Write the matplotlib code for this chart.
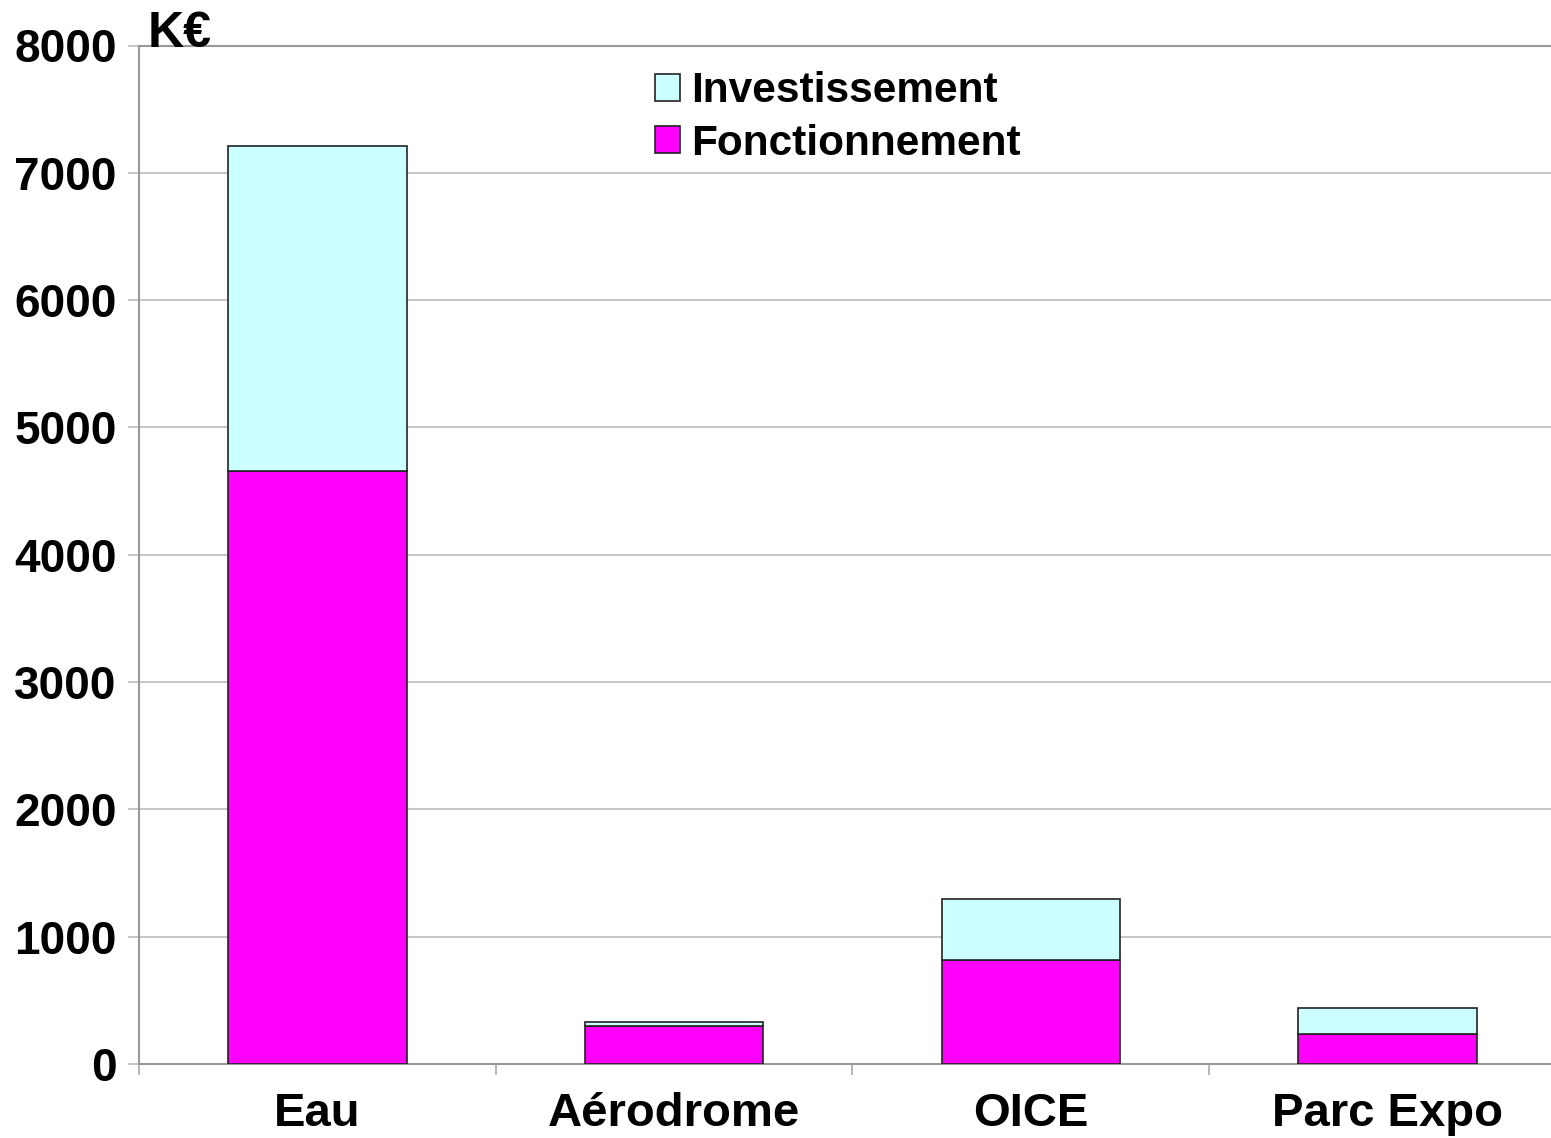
import numpy as np
import matplotlib.pyplot as plt
from matplotlib.ticker import FixedLocator

plt.rcParams['font.family'] = ['Liberation Sans', 'DejaVu Sans']
plt.rcParams['font.weight'] = 'bold'

categories = ['Eau', 'Aérodrome', 'OICE', 'Parc Expo']
fonctionnement = [4655, 298, 816, 233]
investissement = [2553, 32, 477, 207]
yticks = [0, 1000, 2000, 3000, 4000, 5000, 6000, 7000, 8000]

W, H = 1551, 1138
fig = plt.figure(figsize=(W / 100, H / 100), dpi=100)
# plot area runs a bit past the right edge, like the original export
ax = fig.add_axes([139 / W, 1 - 1064 / H, (1566 - 139) / W, (1064 - 45.5) / H])

x = np.arange(len(categories))
ax.bar(x, fonctionnement, width=0.5, color='#ff00ff', edgecolor='#222222',
       linewidth=1.2, label='Fonctionnement', zorder=3)
ax.bar(x, investissement, width=0.5, bottom=fonctionnement, color='#ccffff',
       edgecolor='#222222', linewidth=1.2, label='Investissement', zorder=3)

ax.set_xlim(-0.5, 3.5)
ax.set_ylim(0, 8000)
ax.set_yticks(yticks)
ax.set_yticklabels([str(v) for v in yticks])
ax.grid(axis='y', color='#c0c0c0', linewidth=1.3, zorder=0)

ax.set_xticks(x)
ax.set_xticklabels(categories)
ax.xaxis.set_minor_locator(FixedLocator([-0.5, 0.5, 1.5, 2.5]))
ax.tick_params(axis='x', which='major', length=0, pad=20, labelsize=34)
ax.tick_params(axis='x', which='minor', length=8, color='#b0b0b0', width=1.3)
ax.tick_params(axis='y', length=8, color='#c0c0c0', width=1.3, pad=8, labelsize=33)

for s in ['left', 'bottom', 'top']:
    ax.spines[s].set_color('#999999')
    ax.spines[s].set_linewidth(1.5)
ax.spines['right'].set_visible(False)

fig.text(148 / W, 1 - 47 / H, 'K€', fontsize=36, fontweight='bold', va='baseline')

handles, labels = ax.get_legend_handles_labels()
ax.legend(handles[::-1], labels[::-1], loc='upper left',
          bbox_to_anchor=(655 / W, 1 - 71 / H), bbox_transform=fig.transFigure,
          frameon=False, fontsize=30.5, handlelength=0.6, handleheight=0.6,
          handletextpad=0.25, labelspacing=0.3, borderaxespad=0, borderpad=0)

fig.savefig('out.png', dpi=100)
